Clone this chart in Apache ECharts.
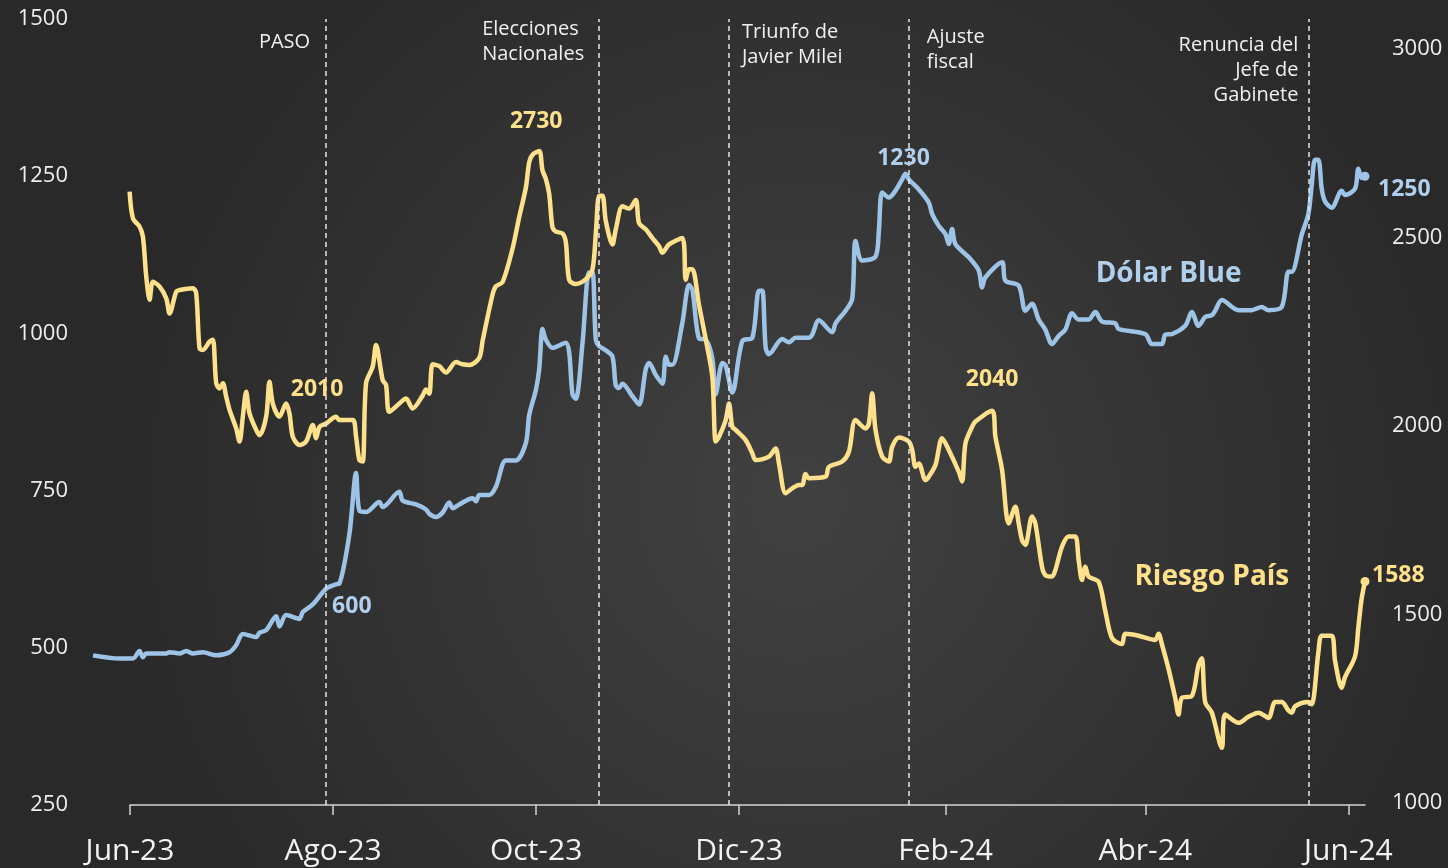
<!DOCTYPE html>
<html>
<head>
<meta charset="utf-8">
<script src="https://cdn.jsdelivr.net/npm/echarts@6/dist/echarts.min.js"></script>
<style>
  html, body { margin: 0; padding: 0; background: #2e2e2e; }
  #chart { width: 1448px; height: 868px; }
</style>
</head>
<body>
<div id="chart"></div>
<script>
// Dólar Blue (eje izquierdo)
const blueDates = [
  '2023-05-21', '2023-05-29', '2023-06-02', '2023-06-04', '2023-06-05', '2023-06-06', '2023-06-12', '2023-06-13',
  '2023-06-16', '2023-06-18', '2023-06-20', '2023-06-23', '2023-06-27', '2023-07-01', '2023-07-03', '2023-07-05',
  '2023-07-09', '2023-07-10', '2023-07-12', '2023-07-15', '2023-07-16', '2023-07-18', '2023-07-22', '2023-07-23',
  '2023-07-26', '2023-07-30', '2023-08-02', '2023-08-03', '2023-08-06', '2023-08-08', '2023-08-09', '2023-08-11',
  '2023-08-15', '2023-08-16', '2023-08-21', '2023-08-22', '2023-08-26', '2023-08-29', '2023-08-30', '2023-09-01',
  '2023-09-03', '2023-09-05', '2023-09-06', '2023-09-08', '2023-09-12', '2023-09-13', '2023-09-14', '2023-09-17',
  '2023-09-19', '2023-09-22', '2023-09-25', '2023-09-28', '2023-09-29', '2023-10-01', '2023-10-02', '2023-10-03',
  '2023-10-04', '2023-10-06', '2023-10-10', '2023-10-11', '2023-10-12', '2023-10-13', '2023-10-15', '2023-10-17',
  '2023-10-18', '2023-10-19', '2023-10-20', '2023-10-22', '2023-10-24', '2023-10-25', '2023-10-26', '2023-10-27',
  '2023-10-30', '2023-11-01', '2023-11-03', '2023-11-04', '2023-11-06', '2023-11-08', '2023-11-09', '2023-11-10',
  '2023-11-11', '2023-11-14', '2023-11-16', '2023-11-17', '2023-11-19', '2023-11-21', '2023-11-23', '2023-11-24',
  '2023-11-26', '2023-11-27', '2023-11-29', '2023-12-02', '2023-12-05', '2023-12-07', '2023-12-08', '2023-12-09',
  '2023-12-10', '2023-12-14', '2023-12-16', '2023-12-18', '2023-12-22', '2023-12-23', '2023-12-25', '2023-12-29',
  '2023-12-30', '2024-01-02', '2024-01-04', '2024-01-05', '2024-01-07', '2024-01-11', '2024-01-12', '2024-01-13',
  '2024-01-15', '2024-01-17', '2024-01-19', '2024-01-20', '2024-01-21', '2024-01-24', '2024-01-27', '2024-01-28',
  '2024-01-30', '2024-02-01', '2024-02-02', '2024-02-03', '2024-02-04', '2024-02-08', '2024-02-11', '2024-02-12',
  '2024-02-13', '2024-02-18', '2024-02-19', '2024-02-23', '2024-02-25', '2024-02-27', '2024-02-29', '2024-03-02',
  '2024-03-04', '2024-03-06', '2024-03-08', '2024-03-10', '2024-03-12', '2024-03-15', '2024-03-17', '2024-03-19',
  '2024-03-23', '2024-03-24', '2024-04-01', '2024-04-03', '2024-04-06', '2024-04-07', '2024-04-09', '2024-04-13',
  '2024-04-15', '2024-04-17', '2024-04-19', '2024-04-21', '2024-04-22', '2024-04-24', '2024-04-29', '2024-05-03',
  '2024-05-06', '2024-05-08', '2024-05-12', '2024-05-14', '2024-05-15', '2024-05-18', '2024-05-20', '2024-05-21',
  '2024-05-22', '2024-05-23', '2024-05-24', '2024-05-25', '2024-05-27', '2024-05-30', '2024-05-31', '2024-06-03',
  '2024-06-04', '2024-06-05', '2024-06-06'
];
const blueValues = [
  488, 483, 483, 495, 485, 491, 491, 493,
  491, 495, 491, 493, 488, 493, 504, 522,
  517, 524, 528, 550, 534, 552, 546, 557,
  569, 594, 601, 602, 681, 778, 718, 716,
  732, 724, 748, 734, 728, 720, 713, 708,
  715, 731, 722, 728, 738, 733, 743, 743,
  756, 798, 798, 826, 870, 910, 943, 1007,
  990, 977, 985, 970, 903, 896, 984, 1097,
  1097, 990, 980, 973, 963, 917, 913, 920,
  900, 887, 943, 953, 934, 920, 963, 950,
  950, 1017, 1077, 1070, 992, 990, 960, 903,
  953, 949, 906, 988, 993, 1068, 1068, 978,
  967, 991, 986, 993, 993, 998, 1021, 1002,
  1016, 1036, 1055, 1147, 1116, 1122, 1163, 1224,
  1216, 1227, 1245, 1254, 1245, 1229, 1208, 1190,
  1171, 1158, 1142, 1166, 1142, 1121, 1100, 1073,
  1089, 1113, 1084, 1076, 1036, 1047, 1022, 1006,
  983, 996, 1006, 1032, 1022, 1022, 1034, 1019,
  1016, 1007, 999, 983, 983, 998, 999, 1012,
  1034, 1012, 1026, 1029, 1036, 1053, 1037, 1037,
  1042, 1037, 1042, 1098, 1098, 1157, 1190, 1236,
  1276, 1276, 1230, 1210, 1200, 1227, 1220, 1230,
  1262, 1247, 1250
];

// Riesgo País (eje derecho)
const riskDates = [
  '2023-06-01', '2023-06-02', '2023-06-04', '2023-06-05', '2023-06-06', '2023-06-07', '2023-06-08', '2023-06-10',
  '2023-06-12', '2023-06-13', '2023-06-15', '2023-06-16', '2023-06-20', '2023-06-21', '2023-06-22', '2023-06-23',
  '2023-06-25', '2023-06-26', '2023-06-27', '2023-06-28', '2023-06-29', '2023-06-30', '2023-07-01', '2023-07-03',
  '2023-07-04', '2023-07-05', '2023-07-06', '2023-07-07', '2023-07-09', '2023-07-10', '2023-07-12', '2023-07-13',
  '2023-07-14', '2023-07-16', '2023-07-18', '2023-07-19', '2023-07-20', '2023-07-22', '2023-07-24', '2023-07-26',
  '2023-07-27', '2023-07-28', '2023-07-30', '2023-08-02', '2023-08-03', '2023-08-07', '2023-08-08', '2023-08-09',
  '2023-08-10', '2023-08-11', '2023-08-13', '2023-08-14', '2023-08-16', '2023-08-17', '2023-08-18', '2023-08-21',
  '2023-08-23', '2023-08-25', '2023-08-28', '2023-08-29', '2023-08-30', '2023-08-31', '2023-09-02', '2023-09-04',
  '2023-09-07', '2023-09-09', '2023-09-11', '2023-09-14', '2023-09-15', '2023-09-18', '2023-09-19', '2023-09-21',
  '2023-09-24', '2023-09-26', '2023-09-28', '2023-09-29', '2023-09-30', '2023-10-02', '2023-10-03', '2023-10-04',
  '2023-10-05', '2023-10-06', '2023-10-07', '2023-10-09', '2023-10-10', '2023-10-11', '2023-10-13', '2023-10-16',
  '2023-10-18', '2023-10-19', '2023-10-20', '2023-10-21', '2023-10-22', '2023-10-24', '2023-10-25', '2023-10-27',
  '2023-10-29', '2023-10-31', '2023-11-01', '2023-11-03', '2023-11-05', '2023-11-07', '2023-11-08', '2023-11-10',
  '2023-11-14', '2023-11-15', '2023-11-16', '2023-11-17', '2023-11-19', '2023-11-21', '2023-11-23', '2023-11-24',
  '2023-11-25', '2023-11-27', '2023-11-28', '2023-11-29', '2023-11-30', '2023-12-03', '2023-12-05', '2023-12-06',
  '2023-12-10', '2023-12-12', '2023-12-13', '2023-12-15', '2023-12-17', '2023-12-19', '2023-12-20', '2023-12-21',
  '2023-12-22', '2023-12-27', '2023-12-28', '2024-01-01', '2024-01-03', '2024-01-05', '2024-01-08', '2024-01-09',
  '2024-01-10', '2024-01-11', '2024-01-13', '2024-01-15', '2024-01-16', '2024-01-18', '2024-01-21', '2024-01-22',
  '2024-01-23', '2024-01-24', '2024-01-26', '2024-01-27', '2024-01-29', '2024-01-31', '2024-02-02', '2024-02-05',
  '2024-02-06', '2024-02-07', '2024-02-09', '2024-02-10', '2024-02-15', '2024-02-16', '2024-02-18', '2024-02-20',
  '2024-02-22', '2024-02-23', '2024-02-24', '2024-02-25', '2024-02-27', '2024-02-28', '2024-03-01', '2024-03-02',
  '2024-03-04', '2024-03-05', '2024-03-07', '2024-03-09', '2024-03-11', '2024-03-12', '2024-03-13', '2024-03-14',
  '2024-03-15', '2024-03-18', '2024-03-20', '2024-03-22', '2024-03-25', '2024-03-26', '2024-03-30', '2024-04-04',
  '2024-04-05', '2024-04-06', '2024-04-08', '2024-04-10', '2024-04-11', '2024-04-12', '2024-04-15', '2024-04-17',
  '2024-04-18', '2024-04-19', '2024-04-21', '2024-04-24', '2024-04-25', '2024-04-29', '2024-05-02', '2024-05-05',
  '2024-05-08', '2024-05-10', '2024-05-12', '2024-05-14', '2024-05-15', '2024-05-16', '2024-05-20', '2024-05-21',
  '2024-05-23', '2024-05-24', '2024-05-27', '2024-05-28', '2024-05-30', '2024-05-31', '2024-06-03', '2024-06-04',
  '2024-06-05', '2024-06-06'
];
const riskValues = [
  2622, 2551, 2529, 2502, 2396, 2335, 2383, 2370,
  2339, 2299, 2357, 2361, 2366, 2352, 2206, 2202,
  2224, 2229, 2114, 2100, 2114, 2078, 2043, 1994,
  1959, 2025, 2091, 2034, 1990, 1976, 2025, 2118,
  2060, 2025, 2060, 2034, 1972, 1950, 1959, 2003,
  1968, 1998, 2007, 2025, 2016, 2016, 1972, 1910,
  1906, 2114, 2158, 2215, 2122, 2109, 2038, 2060,
  2073, 2047, 2081, 2097, 2086, 2164, 2159, 2142,
  2170, 2164, 2162, 2181, 2226, 2349, 2371, 2382,
  2471, 2555, 2633, 2700, 2720, 2730, 2678, 2656,
  2616, 2527, 2516, 2511, 2488, 2388, 2377, 2390,
  2416, 2511, 2611, 2611, 2544, 2482, 2522, 2583,
  2577, 2600, 2538, 2522, 2499, 2477, 2460, 2482,
  2499, 2388, 2416, 2416, 2321, 2231, 2131, 1959,
  1972, 2016, 2060, 1998, 1990, 1963, 1928, 1910,
  1919, 1941, 1901, 1822, 1835, 1844, 1844, 1873,
  1862, 1866, 1892, 1906, 1932, 2016, 1994, 2007,
  2087, 1990, 1919, 1906, 1945, 1970, 1959, 1937,
  1892, 1901, 1857, 1866, 1897, 1968, 1937, 1879,
  1853, 1954, 1998, 2012, 2041, 1972, 1884, 1742,
  1786, 1742, 1698, 1685, 1760, 1742, 1627, 1605,
  1601, 1618, 1680, 1707, 1707, 1645, 1592, 1627,
  1601, 1587, 1510, 1438, 1422, 1449, 1444, 1433,
  1449, 1422, 1356, 1279, 1235, 1279, 1284, 1367,
  1384, 1268, 1240, 1147, 1235, 1213, 1229, 1240,
  1226, 1268, 1268, 1246, 1240, 1257, 1268, 1262,
  1400, 1444, 1444, 1378, 1306, 1334, 1389, 1466,
  1543, 1588
];

// eje X
const tickDates = ['2023-06-01', '2023-08-01', '2023-10-01', '2023-12-01', '2024-02-01', '2024-04-01', '2024-06-01'];
const tickLabels = ['Jun-23', 'Ago-23', 'Oct-23', 'Dic-23', 'Feb-24', 'Abr-24', 'Jun-24'];
const leftTicks = [250, 500, 750, 1000, 1250, 1500];
const rightTicks = [1000, 1500, 2000, 2500, 3000];

// eventos
const eventDates = ['2023-07-30', '2023-10-20', '2023-11-28', '2024-01-21', '2024-05-20'];
const eventLabels = ['PASO', 'Elecciones\nNacionales', 'Triunfo de\nJavier Milei', 'Ajuste\nfiscal', 'Renuncia del\nJefe de\nGabinete'];

// valores destacados
const blueNoteDates = ['2023-08-02', '2024-01-20', '2024-06-06'];
const blueNoteTexts = ['600', '1230', '1250'];
const riskNoteDates = ['2023-07-30', '2023-10-02', '2024-02-15', '2024-06-06'];
const riskNoteTexts = ['2010', '2730', '2040', '1588'];

const BLUE = '#9dc3e6';
const BLUE_TEXT = '#afcfec';
const GOLD = '#ffe18c';
const FONT = 'Open Sans';

const toTime = (s) => {
  const [y, m, d] = s.split('-').map(Number);
  return new Date(y, m - 1, d).getTime();
};
const tickTimes = tickDates.map(toTime);

// posicion de los textos (px respecto al punto)
const eventLayout = [
  { align: 'right', offset: [-16, 11] },
  { align: 'left', offset: [-117, -2] },
  { align: 'left', offset: [13, 1] },
  { align: 'left', offset: [18, 6] },
  { align: 'right', offset: [-10, 14] },
];
const blueNoteLayout = [
  { align: 'left', offset: [-4, 22] },
  { align: 'center', offset: [-2, -15] },
  { align: 'left', offset: [13, 13] },
];
const riskNoteLayout = [
  { align: 'center', offset: [-9, -34] },
  { align: 'center', offset: [-3, -29] },
  { align: 'center', offset: [0, -31] },
  { align: 'left', offset: [7, -6] },
];

const lastPoint = (t, v) => ({ value: [t, v], symbol: 'circle', symbolSize: 9 });

const blueData = blueDates.map((d, i) =>
  i === blueDates.length - 1 ? lastPoint(toTime(d), blueValues[i]) : [toTime(d), blueValues[i]]
);
const riskData = riskDates.map((d, i) =>
  i === riskDates.length - 1 ? lastPoint(toTime(d), riskValues[i]) : [toTime(d), riskValues[i]]
);

const noteLabel = (text, color, lay) => ({
  show: true,
  formatter: text,
  position: 'inside',
  align: lay.align,
  verticalAlign: 'middle',
  offset: lay.offset,
  color: color,
  fontFamily: FONT,
  fontWeight: 'bold',
  fontSize: 23,
});

const chart = echarts.init(document.getElementById('chart'));
chart.setOption({
  animation: false,
  backgroundColor: {
    type: 'radial', x: 0.55, y: 0.58, r: 0.8,
    colorStops: [
      { offset: 0, color: '#414141' },
      { offset: 1, color: '#292929' },
    ],
  },
  textStyle: { fontFamily: FONT },
  grid: [
    { left: 93, right: 83, top: 19, bottom: 63 },
    { left: 130, right: 83, top: 19, bottom: 63 },
  ],
  xAxis: [
    {
      type: 'value', gridIndex: 0, show: false,
      min: toTime('2023-05-21'), max: toTime('2024-06-06'),
    },
    {
      type: 'value', gridIndex: 1,
      min: toTime('2023-06-01'), max: toTime('2024-06-06'),
      axisLine: { lineStyle: { color: '#d4d4d4', width: 1.5 } },
      axisTick: {
        customValues: tickTimes,
        length: 10,
        lineStyle: { color: '#d4d4d4', width: 1.5 },
      },
      axisLabel: {
        customValues: tickTimes,
        formatter: (v) => {
          const i = tickTimes.indexOf(v);
          return i >= 0 ? tickLabels[i] : '';
        },
        color: '#f2f2f2',
        fontSize: 30,
        margin: 31,
      },
      splitLine: { show: false },
    },
  ],
  yAxis: [
    {
      type: 'value', gridIndex: 0, position: 'left',
      min: 250, max: 1500, interval: 250,
      axisLine: { show: false },
      axisTick: { show: false },
      splitLine: { show: false },
      axisLabel: {
        customValues: leftTicks, formatter: (v) => String(v),
        color: '#eeeeee', fontSize: 22, margin: 25,
      },
    },
    {
      type: 'value', gridIndex: 0, position: 'right',
      min: 995, max: 3080,
      axisLine: { show: false },
      axisTick: { show: false },
      splitLine: { show: false },
      axisLabel: {
        customValues: rightTicks, formatter: (v) => String(v),
        color: '#eeeeee', fontSize: 22, margin: 27,
      },
    },
    { type: 'value', gridIndex: 1, show: false, min: 0, max: 1 },
  ],
  series: [
    {
      name: 'Dólar Blue',
      type: 'line',
      xAxisIndex: 0,
      yAxisIndex: 0,
      data: blueData,
      symbol: 'none',
      smooth: 0.3,
      lineStyle: { color: BLUE, width: 4.5 },
      itemStyle: { color: BLUE },
      z: 3,
      markLine: {
        silent: true,
        symbol: ['none', 'none'],
        label: { show: false },
        lineStyle: { color: '#e6e6e6', type: [5, 4], width: 1.5 },
        data: eventDates.map((d) => ({ xAxis: toTime(d) })),
      },
      markPoint: {
        silent: true,
        symbolSize: 0,
        data: [
          ...eventDates.map((d, i) => ({
            coord: [toTime(d), 1500],
            label: {
              show: true,
              formatter: eventLabels[i],
              position: 'inside',
              align: eventLayout[i].align,
              verticalAlign: 'top',
              offset: eventLayout[i].offset,
              color: '#f0f0f0',
              fontFamily: FONT,
              fontSize: 20,
              lineHeight: 25,
            },
          })),
          ...blueNoteDates.map((d, i) => ({
            coord: [toTime(d), blueValues[blueDates.indexOf(d)]],
            label: noteLabel(blueNoteTexts[i], BLUE_TEXT, blueNoteLayout[i]),
          })),
          {
            coord: [toTime('2024-04-08'), 1095],
            label: {
              show: true, formatter: 'Dólar Blue', position: 'inside',
              color: BLUE_TEXT, fontFamily: FONT, fontWeight: 'bold', fontSize: 28,
            },
          },
        ],
      },
    },
    {
      name: 'Riesgo País',
      type: 'line',
      xAxisIndex: 0,
      yAxisIndex: 1,
      data: riskData,
      symbol: 'none',
      smooth: 0.3,
      lineStyle: { color: GOLD, width: 4.5 },
      itemStyle: { color: GOLD },
      z: 4,
      markPoint: {
        silent: true,
        symbolSize: 0,
        data: [
          ...riskNoteDates.map((d, i) => ({
            coord: [toTime(d), riskValues[riskDates.indexOf(d)]],
            label: noteLabel(riskNoteTexts[i], GOLD, riskNoteLayout[i]),
          })),
          {
            coord: [toTime('2024-04-21'), 1600],
            label: {
              show: true, formatter: 'Riesgo País', position: 'inside',
              color: GOLD, fontFamily: FONT, fontWeight: 'bold', fontSize: 28,
            },
          },
        ],
      },
    },
  ],
});
</script>
</body>
</html>
